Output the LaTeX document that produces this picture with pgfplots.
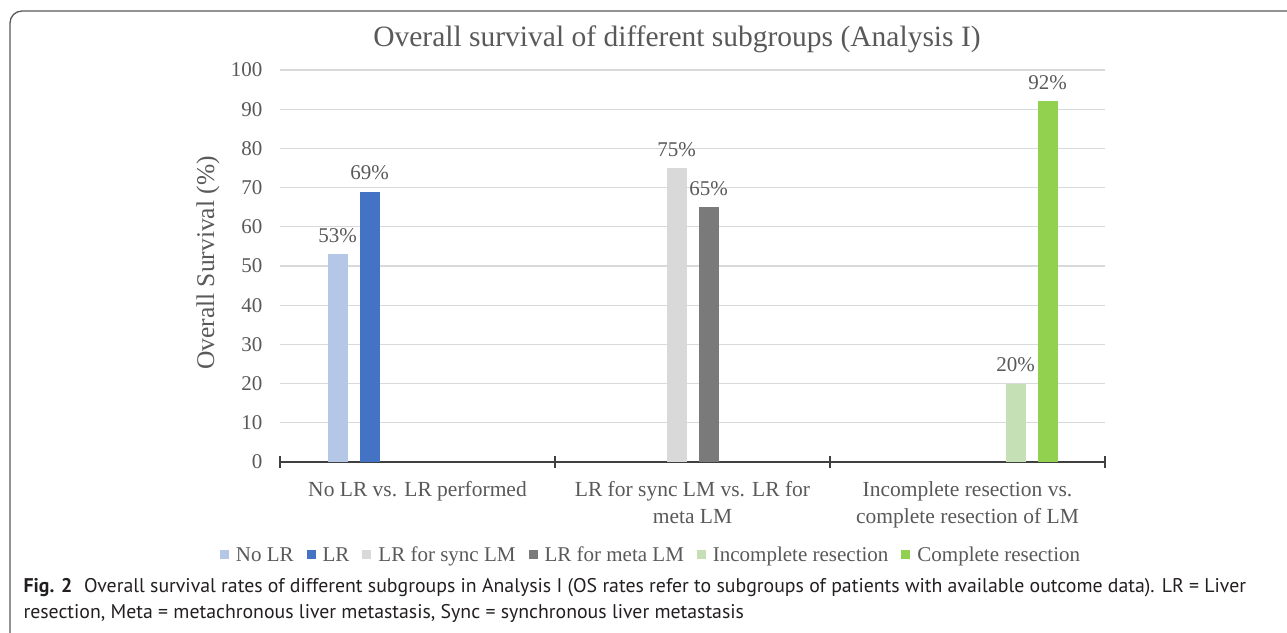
\documentclass[border=0pt]{standalone}
\usepackage{pgfplots}
\pgfplotsset{compat=1.18}
\usepackage{fontspec}
\setmainfont{Liberation Serif}
\newfontfamily\capfont{PT Sans}
\definecolor{txt}{HTML}{595959}
\definecolor{cA}{HTML}{B4C7E7}
\definecolor{cB}{HTML}{4472C4}
\definecolor{cC}{HTML}{D9D9D9}
\definecolor{cD}{HTML}{7A7A7A}
\definecolor{cE}{HTML}{C5E0B4}
\definecolor{cF}{HTML}{92D050}
\definecolor{capc}{HTML}{231F20}
\begin{document}
\begin{tikzpicture}[x=1pt,y=1pt]
\useasboundingbox (0,0) rectangle (1287,-632);
\draw[line width=1.3pt, color=black!65, rounded corners=12pt] (1300,-11) -- (10,-11) -- (10,-660);
\node[font=\fontsize{29.5}{34}\selectfont, text=txt] at (677,-39) {Overall survival of different subgroups (Analysis I)};
\node[rotate=90, font=\fontsize{25.5}{30}\selectfont, text=txt] at (208,-263) {Overall Survival (\%)};
\begin{axis}[
  at={(280pt,-462pt)}, anchor=south west,
  scale only axis, width=825pt, height=392pt,
  ybar=12pt, bar width=20pt,
  xmin=-0.5, xmax=2.5, ymin=0, ymax=100,
  ytick={0,10,...,100},
  xtick={0,1,2},
  xticklabels={No LR vs. LR performed, {LR for sync LM vs. LR for\\meta LM}, {Incomplete resection vs.\\complete resection of LM}},
  minor xtick={-0.5,0.5,1.5,2.5},
  axis x line=bottom, axis y line=left,
  x axis line style={-, line width=1.2pt, color=black!75},
  y axis line style={draw=none},
  ytick style={draw=none},
  major x tick style={draw=none},
  minor x tick style={line width=1.2pt, color=black!75},
  minor tick length=12pt, major tick length=0pt, tick align=center,
  ymajorgrids, grid style={color=black!15, line width=1.2pt},
  /pgf/number format/assume math mode=true,
  yticklabel style={font=\fontsize{21}{25}\selectfont, text=txt, xshift=-14pt},
  xticklabel style={font=\fontsize{21.5}{27}\selectfont, text=txt, align=center, yshift=-16pt},
  nodes near coords={\pgfmathprintnumber{\pgfplotspointmeta}\%},
  every node near coord/.append style={font=\fontsize{21}{25}\selectfont, text=txt, yshift=8pt},
  legend columns=6,
  legend style={draw=none, fill=none, at={(0.4497,-0.237)}, anchor=center,
    font=\fontsize{21}{25}\selectfont, text=txt,
    /tikz/every odd column/.append style={column sep=5pt},
    /tikz/every even column/.append style={column sep=11pt}},
  legend image code/.code={\fill[#1] (0pt,-4.5pt) rectangle (9pt,4.5pt);},
]
\addplot[fill=cA, draw=none] coordinates {(0,53)};
\addplot[fill=cB, draw=none] coordinates {(0,69)};
\addplot[fill=cC, draw=none] coordinates {(1,75)};
\addplot[fill=cD, draw=none] coordinates {(1,65)};
\addplot[fill=cE, draw=none] coordinates {(2,20)};
\addplot[fill=cF, draw=none] coordinates {(2,92)};
\legend{No LR, LR, LR for sync LM, LR for meta LM, Incomplete resection, Complete resection}
\end{axis}
\node[anchor=base west, font=\capfont\fontsize{19.8}{24}\selectfont, text=capc] at (20,-592) {\textbf{Fig. 2}\hspace{0.6em}Overall survival rates of different subgroups in Analysis I (OS rates refer to subgroups of patients with available outcome data). LR = Liver};
\node[anchor=base west, font=\capfont\fontsize{19.8}{24}\selectfont, text=capc] at (20,-618) {resection, Meta = metachronous liver metastasis, Sync = synchronous liver metastasis};
\end{tikzpicture}
\end{document}
